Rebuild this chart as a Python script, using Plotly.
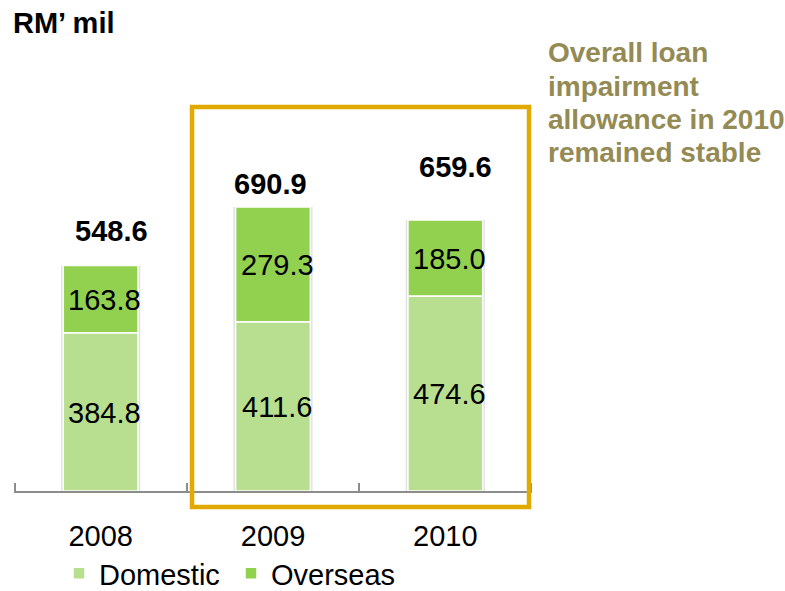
import plotly.graph_objects as go

# Loan impairment allowance, RM' mil
years = ["2008", "2009", "2010"]
domestic = [384.8, 411.6, 474.6]
overseas = [163.8, 279.3, 185.0]
totals = [round(d + o, 1) for d, o in zip(domestic, overseas)]

pos = list(range(len(years)))          # column positions on the x axis
edges = [p - 0.5 for p in pos] + [pos[-1] + 0.5]

W, H = 785, 591
L, R, T, B = 14, 253, 80, 100          # plot-area margins (px)
PW, PH = W - L - R, H - T - B
YMAX = 1000

FONT = "Liberation Sans, Arial, sans-serif"
FS = 29
C_DOM = "#B8DF8F"
C_OVS = "#92D050"
C_BOX = "#E2AA00"
C_NOTE = "#948A54"
C_AXIS = "#8C8C8C"
BAR_W = 0.434


def px_x(px):
    return (px - L) / PW


def px_y(py):
    return (H - B - py) / PH


fig = go.Figure()

# soft shadow behind each column
fig.add_trace(go.Bar(
    x=pos, y=totals, base=[0] * 3, width=BAR_W + 0.025,
    marker=dict(color="rgba(0,0,0,0.12)", line=dict(width=0)),
    showlegend=False, hoverinfo="skip",
))
fig.add_trace(go.Bar(
    x=pos, y=domestic, base=[0] * 3, width=BAR_W, name="Domestic",
    marker=dict(color=C_DOM, line=dict(color="white", width=1.5)),
))
fig.add_trace(go.Bar(
    x=pos, y=overseas, base=domestic, width=BAR_W, name="Overseas",
    marker=dict(color=C_OVS, line=dict(color="white", width=1.5)),
))

ann = []
# segment values, centred in each segment
for i in pos:
    ann.append(dict(x=i, y=domestic[i] / 2, text=f"{domestic[i]:.1f}",
                    xshift=4, yshift=-1, showarrow=False, yanchor="middle",
                    font=dict(size=FS, color="black", family=FONT)))
    ann.append(dict(x=i, y=domestic[i] + overseas[i] / 2, text=f"{overseas[i]:.1f}",
                    xshift=4, yshift=-1, showarrow=False, yanchor="middle",
                    font=dict(size=FS, color="black", family=FONT)))

# totals above the columns
total_shift = [(11, 34.5), (-2.5, 23.5), (10.5, 52.5)]
for i in pos:
    dx, dy = total_shift[i]
    ann.append(dict(x=i, y=totals[i], text=f"<b>{totals[i]:.1f}</b>",
                    xshift=dx, yshift=dy, yanchor="middle", showarrow=False,
                    font=dict(size=FS, color="black", family=FONT)))

# unit label
ann.append(dict(xref="paper", yref="paper", x=px_x(11), y=px_y(23),
                xanchor="left", yanchor="middle", showarrow=False,
                text="<b>RM\u2019 mil</b>",
                font=dict(size=FS, color="black", family=FONT)))

# side note
note_lines = ["Overall loan", "impairment", "allowance in 2010", "remained stable"]
for k, line in enumerate(note_lines):
    ann.append(dict(xref="paper", yref="paper", x=px_x(546), y=px_y(53 + 33.3 * k),
                    xanchor="left", yanchor="middle", showarrow=False,
                    text=f"<b>{line}</b>",
                    font=dict(size=28, color=C_NOTE, family=FONT)))

fig.update_layout(
    width=W, height=H,
    margin=dict(l=L, r=R, t=T, b=B, autoexpand=False),
    paper_bgcolor="white", plot_bgcolor="white",
    barmode="overlay",
    font=dict(family=FONT, size=FS, color="black"),
    annotations=ann,
    shapes=[dict(type="rect", xref="paper", yref="paper",
                 x0=px_x(192), x1=px_x(529), y0=px_y(507), y1=px_y(107),
                 line=dict(color=C_BOX, width=4.5), fillcolor="rgba(0,0,0,0)",
                 layer="above")],
    legend=dict(orientation="h", x=px_x(59), y=px_y(599), xanchor="left", yanchor="bottom",
                font=dict(size=FS, color="black", family=FONT),
                entrywidth=127, entrywidthmode="pixels",
                bgcolor="rgba(0,0,0,0)", traceorder="normal"),
    xaxis=dict(range=[edges[0] - 0.003, edges[-1] + 0.003], showline=True,
               linecolor=C_AXIS, linewidth=1.5,
               tickmode="array", tickvals=pos, ticktext=years, ticks="",
               minor=dict(tickmode="array", tickvals=edges, ticks="inside",
                          ticklen=8, tickcolor=C_AXIS, tickwidth=1.5, showgrid=False),
               showgrid=False, zeroline=False, automargin=False,
               ticklabelstandoff=18,
               tickfont=dict(size=FS, color="black", family=FONT),
               fixedrange=True),
    yaxis=dict(range=[0, YMAX], visible=False, showgrid=False, zeroline=False,
               fixedrange=True),
    showlegend=True,
)

fig.write_html("out.html")
